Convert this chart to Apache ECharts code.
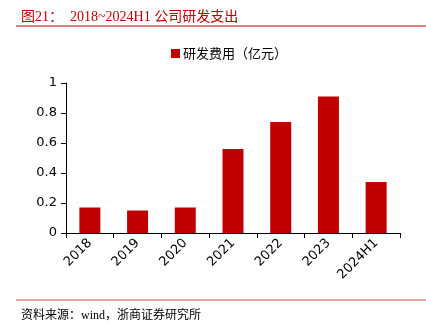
<!DOCTYPE html>
<html><head><meta charset="utf-8">
<script src="https://cdn.jsdelivr.net/npm/echarts@6/dist/echarts.min.js"></script>
<style>html,body{margin:0;padding:0;background:#fff}#c{width:426px;height:324px}</style>
</head><body><div id="c"></div>
<script>
const categories = ['2018','2019','2020','2021','2022','2023','2024H1'];
const rdExpense = [0.17, 0.15, 0.17, 0.56, 0.74, 0.91, 0.34];
const seriesName = '研发费用（亿元）';
const yTicks = [0, 0.2, 0.4, 0.6, 0.8, 1];

const chart = echarts.init(document.getElementById('c'), null, {renderer:'canvas'});
chart.setOption({
  animation:false,
  backgroundColor:'#fff',
  title:[
    {text:'图21：  2018~2024H1 公司研发支出', left:16, top:5,
     textStyle:{color:'#c00000', fontSize:14, fontWeight:'normal', fontFamily:'Liberation Serif, Noto Sans CJK SC'}},
    {text:'资料来源：wind，浙商证券研究所', left:16, top:305,
     textStyle:{color:'#000', fontSize:12, fontWeight:'normal', fontFamily:'Liberation Serif, Noto Sans CJK SC'}}
  ],
  graphic:[
    {type:'line', shape:{x1:16,y1:26,x2:426,y2:26}, style:{stroke:'#c00000', lineWidth:1.2}},
    {type:'line', shape:{x1:16,y1:300,x2:426,y2:300}, style:{stroke:'#e08a8a', lineWidth:1.5}}
  ],
  legend:{top:42, left:166, itemWidth:9, itemHeight:9, itemGap:5,
    icon:'rect',
    textStyle:{fontSize:13, color:'#000', fontFamily:'Noto Sans CJK SC', padding:[0,0,0,-2]},
    data:[seriesName]},
  grid:{left:66, right:26, top:83, bottom:91, containLabel:false},
  xAxis:{type:'category', data:categories,
    axisLine:{lineStyle:{color:'#000', width:1}},
    axisTick:{show:true, alignWithLabel:false, length:5, lineStyle:{color:'#000'}},
    axisLabel:{rotate:45, fontSize:13, color:'#000', margin:8, fontFamily:'DejaVu Sans'}},
  yAxis:{type:'value', min:0, max:1, interval:0.2,
    axisLine:{show:true, lineStyle:{color:'#000'}},
    axisTick:{show:true, length:5, lineStyle:{color:'#000'}},
    splitLine:{show:false},
    axisLabel:{fontSize:13, color:'#000', margin:9, fontFamily:'DejaVu Sans',
      formatter:v=>String(+v.toFixed(1))}},
  series:[{name:seriesName, type:'bar', data:rdExpense, barWidth:'44%',
    itemStyle:{color:'#c00000'}}]
});
</script></body></html>
